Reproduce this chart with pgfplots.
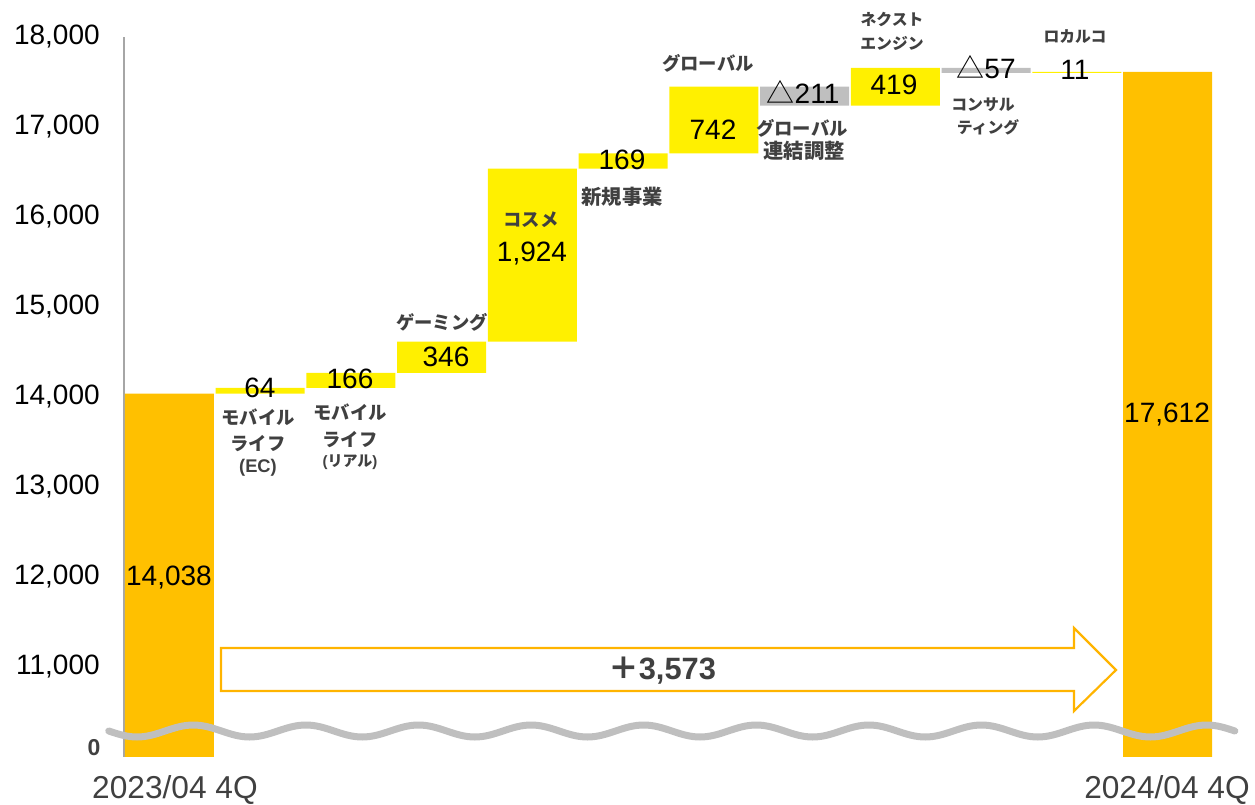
\documentclass[border=0pt]{standalone}
\usepackage{pgfplots}
\usepackage{pgfplotstable}
\pgfplotsset{compat=1.18}
\usepackage{fontspec}
\setmainfont{Liberation Sans}
\newfontfamily\cjk{Noto Sans CJK JP}
\definecolor{gold}{HTML}{FFC000}
\definecolor{yel}{HTML}{FFF000}
\definecolor{gry}{HTML}{BFBFBF}
\definecolor{axisgrey}{HTML}{A6A6A6}
\definecolor{dgrey}{HTML}{404040}
\definecolor{arrowc}{HTML}{FFB400}

\pgfplotstableread{
x base total up down
0 0 14038 0 0
1 14038 0 64 0
2 14102 0 166 0
3 14268 0 346 0
4 14614 0 1924 0
5 16538 0 169 0
6 16707 0 742 0
7 17238 0 0 211
8 17238 0 419 0
9 17600 0 0 57
10 17600 0 11 0
11 0 17612 0 0
}\data

\begin{document}
\begin{tikzpicture}[
  num/.style={font=\fontsize{16.8}{18}\selectfont, text=black, inner sep=0pt},
  jp/.style={font=\fontsize{11}{12}\cjk\bfseries, text=dgrey, inner sep=0pt},
  jpk/.style={font=\fontsize{12.2}{13}\cjk\bfseries, text=dgrey, inner sep=0pt},
  jps/.style={font=\fontsize{9.5}{10}\cjk\bfseries, text=dgrey, inner sep=0pt},
]
\begin{axis}[
  scale only axis, width=653.4pt, height=432pt,
  xmin=-0.5, xmax=11.5, ymin=10000, ymax=18000,
  enlargelimits=false,
  ybar stacked, bar width=0.98,
  axis x line=none,
  axis y line*=left,
  y axis line style={draw=axisgrey, line width=0.9pt},
  ytick={11000,12000,...,18000},
  scaled y ticks=false,
  major tick length=0pt,
  /pgf/number format/assume math mode=true,
  /pgf/number format/fixed,
  /pgf/number format/1000 sep={,},
  yticklabel style={font=\fontsize{16.8}{18}\selectfont, text=black, inner sep=0pt, xshift=-14.4pt},
]
\addplot[fill=none, draw=none] table[x=x, y=base] {\data};
\addplot[fill=gold, draw=none] table[x=x, y=total] {\data};
\addplot[fill=yel, draw=none] table[x=x, y=up] {\data};
\addplot[fill=gry, draw=none] table[x=x, y=down] {\data};
\coordinate (O) at (axis cs:-0.5,10000);
\end{axis}

\begin{scope}[shift={(O)}]
\begin{scope}[x=0.6pt, y=-0.6pt, shift={(-124,-757)}]
\path (0,0) rectangle (1255,802);
% wave
\draw[gry, line width=4.2pt, line cap=round]
  (108.75,731) \foreach \k in {0,...,9} {
    sin ({137+112.6*\k},737) cos ({165.15+112.6*\k},731)
    sin ({193.3+112.6*\k},725) cos ({221.45+112.6*\k},731) };
% arrow
\draw[arrowc, line width=1.3pt, fill=white, line join=miter]
  (221,648) -- (1074,648) -- (1074,628) -- (1116,670) -- (1074,711)
  -- (1074,691) -- (221,691) -- cycle;
\node[font=\fontsize{18.5}{20}\bfseries, text=dgrey, inner sep=0pt] at (662,671)
  {{\cjk ＋}3,573};
% zero label
\node[font=\fontsize{13.8}{15}\bfseries, text=dgrey, inner sep=0pt] at (94,748) {0};
% x labels
\node[font=\fontsize{19}{20}\selectfont, text=dgrey, inner sep=0pt] at (175,790) {2023/04 4Q};
\node[font=\fontsize{19}{20}\selectfont, text=dgrey, inner sep=0pt] at (1167,790) {2024/04 4Q};
% values
\node[num] at (169,578) {14,038};
\node[num] at (1167,415) {17,612};
\node[num] at (260,388) {64};
\node[num] at (350,379) {166};
\node[num] at (446,357) {346};
\node[num] at (532,254) {1,924};
\node[num] at (622,160) {169};
\node[num] at (713,130) {742};
\node[num] at (803,92) {{\cjk △}211};
\node[num] at (894,85) {419};
\node[num] at (986,67) {{\cjk △}57};
\node[num] at (1075,70) {11};
% category labels
\node[jp] at (258,417) {モバイル};
\node[jp] at (258,444) {ライフ};
\node[font=\fontsize{11}{12}\bfseries, text=dgrey, inner sep=0pt] at (258,468) {(EC)};
\node[jp] at (350,412) {モバイル};
\node[jp] at (350,440) {ライフ};
\node[font=\fontsize{9}{10}\bfseries, text=dgrey, inner sep=0pt] at (350,462) {(\cjk リアル\rmfamily)};
\node[jp] at (442,322) {ゲーミング};
\node[jp] at (531,220) {コスメ};
\node[jpk] at (622,197) {新規事業};
\node[jp] at (708,63) {グローバル};
\node[jp] at (802,128) {グローバル};
\node[jpk] at (804,151) {連結調整};
\node[jps] at (892,19) {ネクスト};
\node[jps] at (892,43) {エンジン};
\node[jps] at (983,105) {コンサル};
\node[jps] at (988,127) {ティング};
\node[jps] at (1075,37) {ロカルコ};
\end{scope}
\end{scope}
\end{tikzpicture}
\end{document}
